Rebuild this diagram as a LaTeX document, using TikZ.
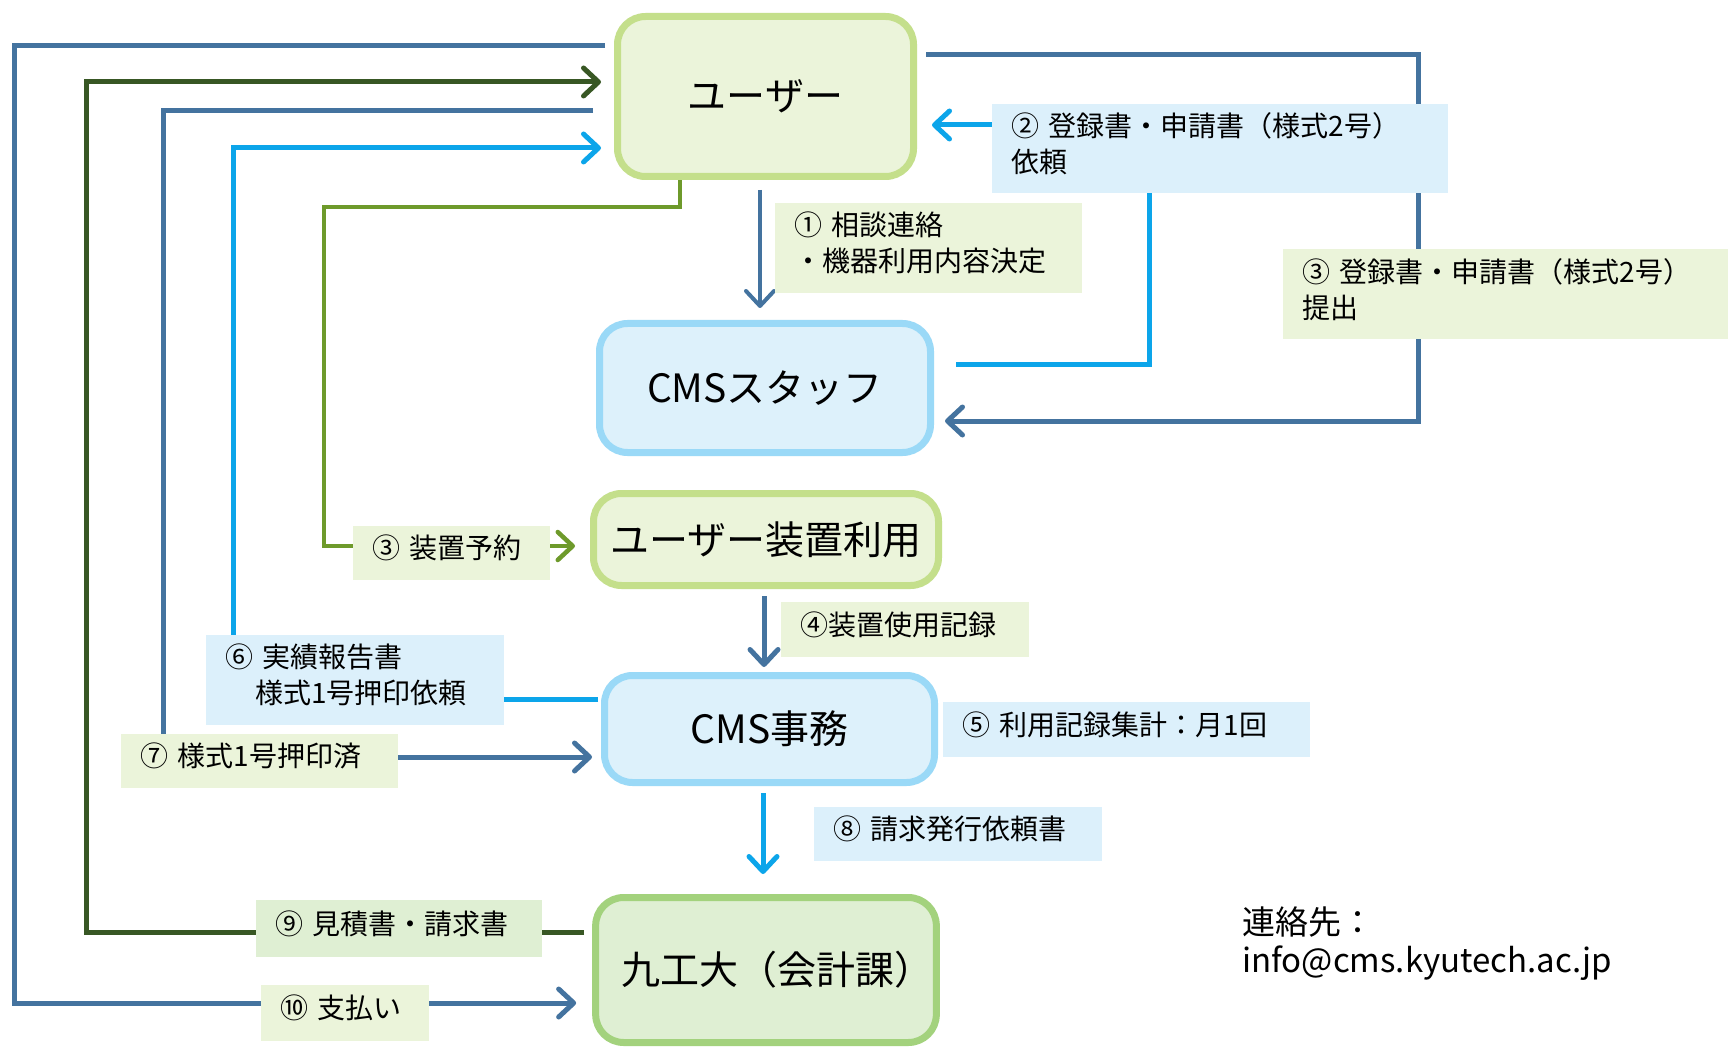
\documentclass[tikz,border=0pt]{standalone}
\usepackage{fontspec}
\setmainfont{Noto Sans CJK JP}
\usetikzlibrary{arrows.meta}
\definecolor{sblue}{HTML}{44739F}
\definecolor{bblue}{HTML}{0CA5EA}
\definecolor{dgreen}{HTML}{385724}
\definecolor{olive}{HTML}{6E9A2B}
\definecolor{ubord}{HTML}{C4DF8B}
\definecolor{ufill}{HTML}{EBF4DA}
\definecolor{cbord}{HTML}{9AD9F7}
\definecolor{cfill}{HTML}{DDF1FB}
\definecolor{kbord}{HTML}{A3D27D}
\definecolor{kfill}{HTML}{DFEFD3}
\definecolor{lgfill}{HTML}{EBF4DA}
\definecolor{lbfill}{HTML}{DCF0FB}
\definecolor{lg2fill}{HTML}{DFEFD3}
\pgfdeclarelayer{bg}
\pgfsetlayers{bg,main}
\newcommand\lblfont{\fontsize{28}{36}\selectfont}
\newcommand\boxfont{\fontsize{39}{47}\selectfont}
% label text: a left-aligned block of given width, lifted a little (extra depth)
\newcommand\lbltext[2]{\raisebox{0pt}[\height][\dimexpr\depth+10pt\relax]{\parbox[c]{#1}{\spaceskip=.3333em\relax #2}}}
\tikzset{
  bigbox/.style={rounded corners=28pt, line width=7pt, font=\boxfont, align=center},
  ubox/.style={bigbox, draw=ubord, fill=ufill},
  cbox/.style={bigbox, draw=cbord, fill=cfill},
  kbox/.style={bigbox, draw=kbord, fill=kfill},
  lbl/.style={anchor=north west, inner xsep=19pt, inner ysep=0pt, font=\lblfont},
  glbl/.style={lbl, fill=lgfill},
  g2lbl/.style={lbl, fill=lg2fill},
  blbl/.style={lbl, fill=lbfill},
  tip/.style={-{Straight Barb[length=15pt,width=28pt,round]}},
  conn/.style={line width=5pt},
}
\begin{document}
\begin{tikzpicture}[x=1pt,y=-1pt]
\useasboundingbox (0,0) rectangle (1728,1048);

% boxes
\node[ubox, minimum width=296pt, minimum height=160pt] (user) at (765.5,96.5) {ユーザー};
\node[cbox, minimum width=331pt, minimum height=129pt] (staff) at (765,388) {CMSスタッフ};
\node[ubox, minimum width=345pt, minimum height=92pt] (use) at (766,539.5) {ユーザー装置利用};
\node[cbox, minimum width=330pt, minimum height=107pt] (office) at (769.5,729) {CMS事務};
\node[kbox, minimum width=335pt, minimum height=145pt] (kit) at (766,970) {\hspace*{22pt}九工大（会計課）};

% labels
\node[glbl, minimum width=307pt, minimum height=90pt] (l1) at (775,203) {\lbltext{269pt}{① 相談連絡\\・機器利用内容決定}};
\node[blbl, minimum width=456pt, minimum height=89pt] (l2) at (992,104) {\lbltext{418pt}{② 登録書・申請書（様式2号）\\依頼}};
\node[glbl, minimum width=445pt, minimum height=90pt] (l3) at (1283,249) {\lbltext{407pt}{③ 登録書・申請書（様式2号）\\提出}};
\node[glbl, minimum width=197pt, minimum height=54pt] (l4) at (353,526) {\lbltext{159pt}{③ 装置予約}};
\node[glbl, minimum width=248pt, minimum height=55pt] (l5) at (781,602) {\lbltext{210pt}{④装置使用記録}};
\node[blbl, minimum width=367pt, minimum height=55pt] (l6) at (943,702) {\lbltext{329pt}{⑤ 利用記録集計：月1回}};
\node[blbl, minimum width=298pt, minimum height=90pt] (l7) at (206,635) {\lbltext{260pt}{⑥ 実績報告書\\\hspace*{30pt}様式1号押印依頼}};
\node[glbl, minimum width=277pt, minimum height=54pt] (l8) at (121,734) {\lbltext{239pt}{⑦ 様式1号押印済}};
\node[blbl, minimum width=288pt, minimum height=54pt] (l9) at (814,807) {\lbltext{250pt}{⑧ 請求発行依頼書}};
\node[g2lbl, minimum width=286pt, minimum height=57pt] (l10) at (256,900) {\lbltext{248pt}{⑨ 見積書・請求書}};
\node[glbl, minimum width=168pt, minimum height=56pt] (l11) at (261,985) {\lbltext{130pt}{⑩ 支払い}};

\node[anchor=north west, inner sep=0pt, align=left, font=\fontsize{33}{38}\selectfont] (contact) at (1242,907) {連絡先：\\info@cms.kyutech.ac.jp};

\begin{pgfonlayer}{bg}
\fill[white] (0,0) rectangle (1728,1048);
% 10 payment
\draw[conn, sblue, tip, shorten <=9pt, shorten >=16pt] (user.west |- 0,46) -- (14,46) -- (14,1003) -- (kit.west |- 0,1003);
% 9 estimate / invoice
\draw[conn, dgreen, tip, shorten <=8pt, shorten >=13pt] (kit.west |- 0,932) -- (86,932) -- (86,82) -- (user.west |- 0,82);
% 7
\draw[conn, sblue, tip, shorten <=21pt, shorten >=9pt] (user.west |- 0,111) -- (163,111) -- (163,757) -- (office.west |- 0,757);
% 6
\draw[conn, bblue, tip, shorten <=3pt, shorten >=13pt] (office.west |- 0,699) -- (233,699) -- (233,148) -- (user.west |- 0,148);
% 3 reservation
\draw[line width=4.5pt, olive, tip, shorten >=15pt] (user.south -| 680,0) -- (680,207) -- (324,207) -- (324,546) -- (use.west |- 0,546);
% 1
\draw[line width=4pt, sblue, tip, shorten <=10pt, shorten >=12pt] (user.south -| 760,0) -- (staff.north -| 760,0);
% 2
\draw[conn, bblue, tip, shorten <=22pt, shorten >=15pt] (staff.east |- 0,364) -- (1149,364) -- (1149,125) -- (user.east |- 0,125);
% 3 submit
\draw[conn, sblue, tip, shorten <=9pt, shorten >=11pt] (user.east |- 0,55) -- (1418,55) -- (1418,421) -- (staff.east |- 0,421);
% 4
\draw[conn, sblue, tip, shorten <=7pt, shorten >=5pt] (use.south -| 764,0) -- (office.north -| 764,0);
% 8
\draw[conn, bblue, tip, shorten <=7pt, shorten >=20pt] (office.south -| 763,0) -- (kit.north -| 763,0);
\end{pgfonlayer}
\end{tikzpicture}
\end{document}
